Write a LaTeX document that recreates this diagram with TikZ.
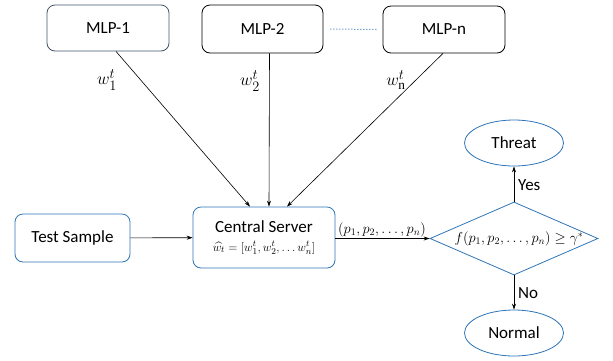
\documentclass[tikz,border=0pt]{standalone}
\usepackage{amsmath,amssymb}
\usepackage{fontspec}
\setmainfont{Carlito}
\newfontfamily\serifup{Liberation Serif}
\usetikzlibrary{shapes.geometric,arrows.meta}
\definecolor{oblue}{HTML}{2E75B6}
\definecolor{ogray}{HTML}{44546A}
\tikzset{
  txt/.style={font=\fontsize{17}{20}\selectfont},
  box/.style={draw, rounded corners=8pt, line width=0.8pt, inner sep=0pt, txt},
  bluebox/.style={box, draw=oblue},
  oval/.style={ellipse, draw=oblue, line width=0.8pt, inner sep=0pt, txt},
  arr/.style={-{Stealth[length=6pt,width=4pt]}, line width=0.6pt},
  lab/.style={font=\fontsize{17}{20}\selectfont, inner sep=0pt},
  wlab/.style={font=\fontsize{19}{22}\selectfont, inner sep=0pt},
  mth/.style={font=\fontsize{14}{16}\selectfont, inner sep=0pt}
}
\begin{document}
\begin{tikzpicture}[x=1pt,y=-1pt]
\useasboundingbox (0,0) rectangle (613,360);
\node[box, draw=ogray, minimum width=122pt, minimum height=46pt] (m1) at (108,28) {MLP-1};
\node[box, minimum width=121pt, minimum height=48pt] (m2) at (262.5,29) {MLP-2};
\node[box, minimum width=122pt, minimum height=47pt] (mn) at (444,29.5) {MLP-n};
\draw[oblue, dotted, line width=1pt] ([xshift=7]m2.east) coordinate (d1) -- ([xshift=-6]mn.west) coordinate (d2);
\node[bluebox, minimum width=115pt, minimum height=48pt] (ts) at (72.5,238) {Test Sample};
\node[bluebox, minimum width=142pt, minimum height=61pt] (cs) at (264,237.5) {};
\node[txt, inner sep=0pt] (cst) at (264,227) {Central Server};
\node[font=\fontsize{13}{15}\selectfont, inner sep=0pt] (csf) at (264,248) {$\widehat{w_t}=[w_1^t,w_2^t,\ldots w_n^t]$};
\node[diamond, draw=oblue, line width=0.8pt, minimum width=168pt, minimum height=73pt, inner sep=0pt, aspect=2.3] (dm) at (514,238.5) {};
\node[mth] (dmt) at (519,239) {$f(p_1,p_2,\ldots,p_n)\geq\gamma^*$};
\node[oval, minimum width=99pt, minimum height=46pt] (th) at (514,143) {Threat};
\node[oval, minimum width=99pt, minimum height=46pt] (no) at (514,333) {Normal};
\draw[arr] ([xshift=8]m1.south) -- ([xshift=-14]cs.north);
\draw[arr] ([xshift=7]m2.south) -- ([xshift=5]cs.north);
\draw[arr] ([xshift=-1]mn.south) -- ([xshift=23]cs.north);
\node[wlab] (l1) at (107,80) {$w_1^t$};
\node[wlab] (l2) at (250,81) {$w_2^t$};
\node[wlab] (l3) at (396,80) {$w_{\text{\serifup n}}^t$};
\draw[arr] (ts) -- (cs);
\draw[arr] (cs.east |- dm.west) -- (dm.west);
\node[mth] (pl) at (382,230) {$(p_1,p_2,\ldots,p_n)$};
\draw[arr] (dm.north) -- (th.south);
\node[lab, anchor=west] (yes) at (518,185) {Yes};
\draw[arr] (dm.south) -- (no.north);
\node[lab, anchor=west] (nol) at (518,293) {No};
\end{tikzpicture}
\end{document}
